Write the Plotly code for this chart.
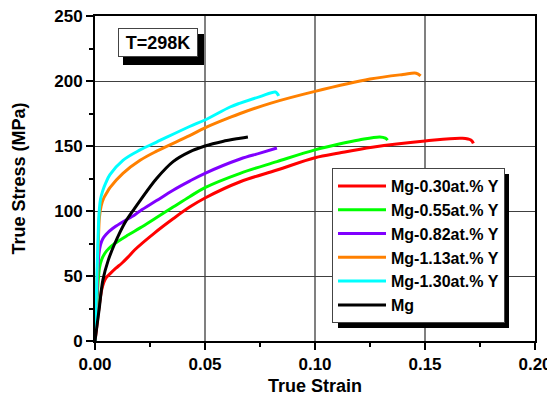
import plotly.graph_objects as go

# ---- data ----
strain_030 = [0, 0.001, 0.002, 0.003, 0.004, 0.005, 0.007, 0.0095, 0.0123, 0.015, 0.018, 0.027,
              0.0355, 0.043, 0.05, 0.066, 0.0827, 0.1, 0.111, 0.126, 0.15, 0.167, 0.171, 0.172]
stress_030 = [0, 14, 28, 39, 45, 48.5, 52, 56, 60, 64.5, 70, 83,
              94, 103, 110, 122.5, 131.5, 141, 144.6, 149, 153.8, 156, 154.5, 152]

strain_055 = [0, 0.001, 0.0015, 0.002, 0.003, 0.0045, 0.0065, 0.009, 0.015, 0.0205, 0.028, 0.0355,
              0.043, 0.05, 0.066, 0.0827, 0.1, 0.111, 0.12, 0.1295, 0.132, 0.133]
stress_055 = [0, 33, 47, 56, 62.5, 67.5, 71.5, 75, 81.5, 87, 95, 103,
              111, 118, 129, 138, 147, 151.5, 154.6, 157, 156, 154.5]

strain_082 = [0, 0.0008, 0.0013, 0.0018, 0.0025, 0.0035, 0.005, 0.008, 0.012, 0.018, 0.0205, 0.028,
              0.0355, 0.043, 0.05, 0.066, 0.075, 0.0827]
stress_082 = [0, 33, 55, 67, 74, 78.5, 82, 86.5, 91, 97, 100, 108,
              116, 123, 129, 140, 144.5, 148.5]

strain_113 = [0, 0.0008, 0.0015, 0.002, 0.0028, 0.004, 0.0055, 0.0068, 0.0127, 0.0205, 0.028, 0.043,
              0.05, 0.0614, 0.066, 0.08, 0.1, 0.125, 0.14, 0.146, 0.148]
stress_113 = [0, 40, 75, 95, 104, 110, 114.5, 118, 129, 139, 146, 158,
              164, 172, 175, 183, 192, 201.5, 205, 206, 204]

strain_130 = [0, 0.0007, 0.0014, 0.0018, 0.0025, 0.0035, 0.005, 0.0068, 0.0127, 0.0205, 0.028, 0.043,
              0.05, 0.0614, 0.066, 0.075, 0.082, 0.083, 0.0835]
stress_130 = [0, 40, 80, 97, 109, 115.5, 122, 128, 139, 147, 153, 165,
              170, 180, 183, 188, 191.5, 190, 188.5]

strain_mg = [0, 0.001, 0.002, 0.0036, 0.006, 0.009, 0.0136, 0.018, 0.0205, 0.028, 0.0355, 0.043,
             0.05, 0.058, 0.066, 0.0695]
stress_mg = [0, 13, 26, 47, 62, 75, 91, 102, 108, 125, 138, 145.5,
             150, 153.5, 156, 157]

series_names = ["Mg-0.30at.% Y", "Mg-0.55at.% Y", "Mg-0.82at.% Y",
                "Mg-1.13at.% Y", "Mg-1.30at.% Y", "Mg"]
series_x = [strain_030, strain_055, strain_082, strain_113, strain_130, strain_mg]
series_y = [stress_030, stress_055, stress_082, stress_113, stress_130, stress_mg]
series_colors = ["#ff0000", "#00ff00", "#8000ff", "#ff8000", "#00ffff", "#000000"]

x_ticks = [0, 0.05, 0.10, 0.15, 0.20]
x_ticklabels = ["0.00", "0.05", "0.10", "0.15", "0.20"]
y_ticks = [0, 50, 100, 150, 200, 250]

FONT = "Liberation Sans, Arial, sans-serif"

fig = go.Figure()
for name, xs, ys, c in zip(series_names, series_x, series_y, series_colors):
    fig.add_trace(go.Scatter(x=xs, y=ys, mode="lines", name=name,
                             line=dict(color=c, width=3, shape="spline", smoothing=1.0)))

# target plot area in window px: x 95..535, y 16..341 (page body has an 8px margin)
def px2x(p):
    return (p - 95) / 440.0

def px2y(p):
    return (341 - p) / 325.0

shapes = [
    # shadow of T=298K box
    dict(type="rect", xref="paper", yref="paper",
         x0=px2x(123), x1=px2x(204), y0=px2y(65), y1=px2y(34),
         fillcolor="black", line=dict(width=0), layer="above"),
    # shadow of legend
    dict(type="rect", xref="paper", yref="paper",
         x0=px2x(338), x1=px2x(509), y0=px2y(328), y1=px2y(174),
         fillcolor="black", line=dict(width=0), layer="above"),
]

fig.update_layout(
    width=547, height=388,
    margin=dict(l=87, r=20, t=8, b=55),
    paper_bgcolor="white", plot_bgcolor="white",
    font=dict(family=FONT, size=17, color="black", weight="bold"),
    showlegend=True,
    legend=dict(x=px2x(332), y=px2y(168), xanchor="left", yanchor="top",
                bgcolor="white", bordercolor="#444444", borderwidth=1,
                font=dict(family=FONT, size=16, color="black", weight="bold"),
                itemwidth=48, tracegroupgap=0),
    shapes=shapes,
    annotations=[dict(text="T=298K", xref="paper", yref="paper",
                      x=px2x(158), y=px2y(43), xanchor="center", yanchor="middle",
                      showarrow=False, bgcolor="white", bordercolor="#444444",
                      borderwidth=1, width=76, height=25, borderpad=1,
                      font=dict(family=FONT, size=18, color="black", weight="bold"))],
)

fig.update_xaxes(
    range=[0, 0.2], tickvals=x_ticks, ticktext=x_ticklabels, automargin=False,
    ticklabeloverflow="allow",
    ticks="outside", ticklen=7, tickwidth=2, tickcolor="black",
    showline=True, linewidth=2, linecolor="black", mirror=True,
    showgrid=True, gridcolor="#808080", gridwidth=2, zeroline=False,
    minor=dict(ticks="outside", ticklen=4, tickwidth=2, tickcolor="black",
               dtick=0.025, tick0=0, showgrid=False),
    tickfont=dict(family=FONT, size=17, color="black", weight="bold"),
    title=dict(text="True Strain", standoff=8,
               font=dict(family=FONT, size=18, color="black", weight="bold")),
)
fig.update_yaxes(
    range=[0, 250], tickvals=y_ticks, automargin=False,
    ticklabeloverflow="allow",
    ticks="outside", ticklen=7, tickwidth=2, tickcolor="black",
    showline=True, linewidth=2, linecolor="black", mirror=True,
    showgrid=True, gridcolor="#404040", gridwidth=1, zeroline=False,
    minor=dict(ticks="outside", ticklen=4, tickwidth=2, tickcolor="black",
               dtick=25, tick0=0, showgrid=False),
    tickfont=dict(family=FONT, size=17, color="black", weight="bold"),
    title=dict(text="True Stress (MPa)", standoff=24,
               font=dict(family=FONT, size=18, color="black", weight="bold")),
)

fig.write_html("out.html")
